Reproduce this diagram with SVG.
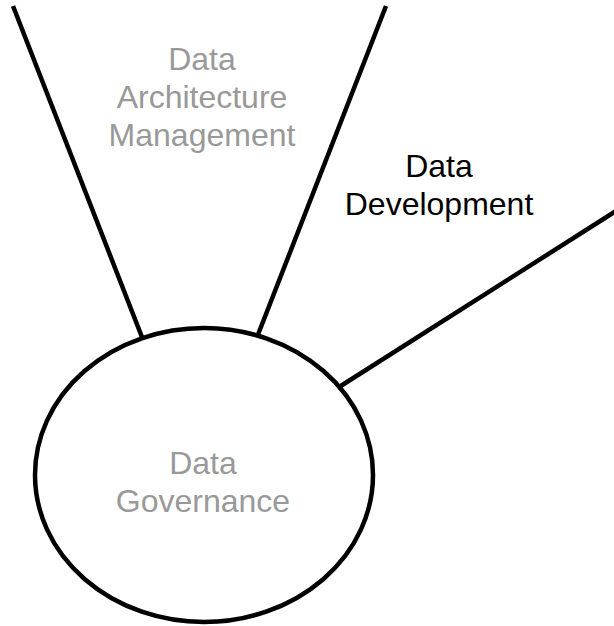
<svg xmlns="http://www.w3.org/2000/svg" width="614" height="626" viewBox="0 0 614 626">
<style>
.conn{stroke:#000;stroke-width:4.5;fill:none;stroke-linecap:butt}
.lbl{font-family:"Liberation Sans",Arial,sans-serif;font-size:32px;text-anchor:middle}
.gray{fill:#999999}
.black{fill:#000000}
</style>
<rect width="614" height="626" fill="#ffffff"/>
<g id="connectors">
<line class="conn" x1="13" y1="6" x2="147" y2="350"/>
<line class="conn" x1="386" y1="6" x2="252" y2="350"/>
<line class="conn" x1="616" y1="211" x2="325" y2="396"/>
</g>
<g id="data-governance">
<ellipse cx="204" cy="475" rx="169" ry="147" fill="#ffffff" stroke="#000" stroke-width="4.5"/>
<text class="lbl gray" x="203" y="474">Data</text>
<text class="lbl gray" x="203" y="512">Governance</text>
</g>
<g id="data-architecture-management">
<text class="lbl gray" x="202" y="70">Data</text>
<text class="lbl gray" x="202" y="108">Architecture</text>
<text class="lbl gray" x="202" y="146">Management</text>
</g>
<g id="data-development">
<text class="lbl black" x="439" y="177">Data</text>
<text class="lbl black" x="439" y="215">Development</text>
</g>
</svg>
